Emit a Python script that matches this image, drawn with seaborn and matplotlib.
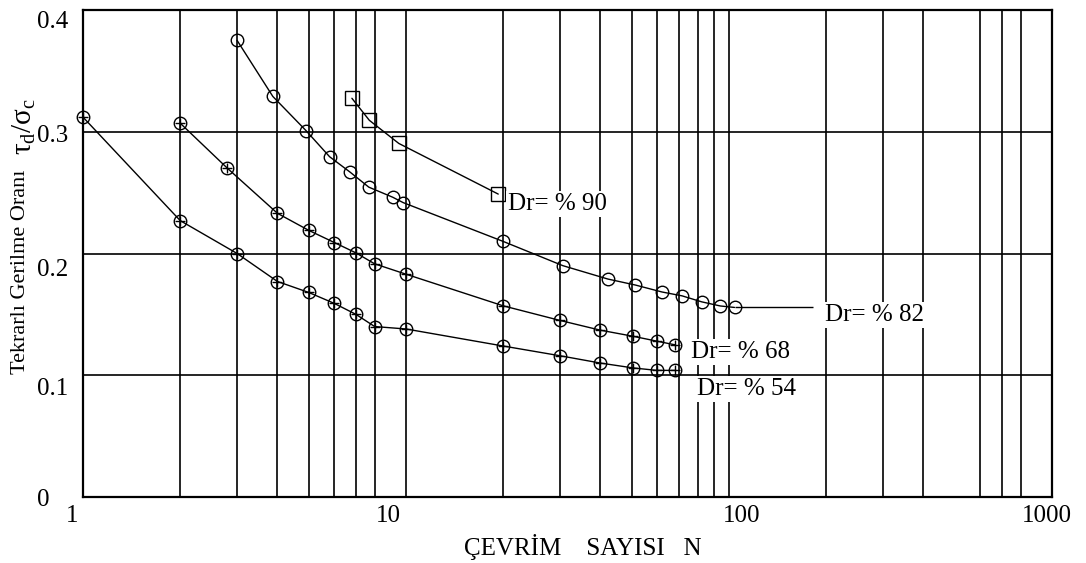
import numpy as np
import pandas as pd
import matplotlib
matplotlib.use("Agg")
import matplotlib.pyplot as plt
import seaborn as sns
from matplotlib.transforms import ScaledTranslation
from matplotlib.ticker import NullFormatter

# ---------------- data ----------------
n_54 = [1.0, 2.0, 3.0, 4.0, 5.0, 6.0, 7.0, 8.0, 10.0, 20.0, 30.0, 40.0, 50.5, 59.8, 68.0]
r_54 = [0.312, 0.227, 0.200, 0.177, 0.168, 0.159, 0.150, 0.140, 0.138, 0.124, 0.116, 0.110, 0.106, 0.104, 0.104]

n_68 = [2.0, 2.8, 4.0, 5.0, 6.0, 7.0, 8.0, 10.0, 20.0, 30.0, 40.0, 50.5, 59.8, 68.0]
r_68 = [0.307, 0.270, 0.233, 0.219, 0.209, 0.2005, 0.1915, 0.183, 0.157, 0.145, 0.137, 0.132, 0.128, 0.125]

n_82 = [3.0, 3.87, 4.9, 5.8, 6.7, 7.67, 9.1, 9.8, 20.0, 30.6, 42.2, 51.3, 62.0, 71.6, 82.3, 94.0, 104.0]
r_82 = [0.375, 0.329, 0.301, 0.2795, 0.267, 0.2545, 0.2462, 0.2418, 0.2099, 0.190, 0.179, 0.1741,
        0.1684, 0.1652, 0.1603, 0.1569, 0.1557]

n_90 = [6.8, 7.7, 9.5, 19.3]
r_90 = [0.3275, 0.3094, 0.2904, 0.2488]

series_labels = ["Dr= % 54", "Dr= % 68", "Dr= % 82", "Dr= % 90"]

x_ticks = [1, 10, 100, 1000]
x_tick_labels = ["1", "10", "100", "1000"]
y_ticks = [0.0, 0.1, 0.2, 0.3, 0.4]
y_tick_labels = ["0", "0.1", "0.2", "0.3", "0.4"]
grid_n = [2, 3, 4, 5, 6, 7, 8, 20, 30, 40, 50, 60, 70, 80, 90, 200, 300, 400, 600, 700, 800]

x_title = "ÇEVRİM    SAYISI   N"
y_title_words = "Tekrarlı Gerilme Oranı"
y_title_symbol = r"$\mathregular{τ_d/σ_c}$"

# ---------------- style ----------------
sns.set_style("white")
plt.rcParams["font.family"] = ["Liberation Serif", "DejaVu Serif"]
plt.rcParams["mathtext.fontset"] = "stix"

W, H = 1086, 563
fig = plt.figure(figsize=(W / 100, H / 100), dpi=100)
ax = fig.add_axes([83 / W, 1 - 497 / H, 969 / W, 487 / H])

line_kw = dict(color="black", lw=1.0, markerfacecolor="none", markeredgecolor="black",
               markeredgewidth=1.0, estimator=None, sort=False, clip_on=False, legend=False)

for n, r in [(n_54, r_54), (n_68, r_68), (n_82, r_82)]:
    df = pd.DataFrame({"N": n, "r": r})
    sns.lineplot(data=df, x="N", y="r", ax=ax, marker="o", markersize=9, **line_kw)

for n, r in [(n_54, r_54), (n_68, r_68)]:
    sns.scatterplot(x=n, y=r, ax=ax, marker="+", s=45, color="black", linewidth=1.0,
                    clip_on=False, legend=False, zorder=4)

df90 = pd.DataFrame({"N": n_90, "r": r_90})
sns.lineplot(data=df90, x="N", y="r", ax=ax, marker="s", markersize=10, **line_kw)

# leader line from the Dr=82 curve to its label
ax.hlines(r_82[-1], n_82[-1], 182, color="black", lw=1.0)

# ---------------- axes ----------------
ax.set_xscale("log")
ax.set_xlim(1, 1000)
ax.set_ylim(0, 0.4)
ax.set_xticks(x_ticks)
ax.set_xticklabels(x_tick_labels)
ax.set_xticks(grid_n, minor=True)
ax.xaxis.set_minor_formatter(NullFormatter())
ax.set_yticks(y_ticks)
ax.set_yticklabels(y_tick_labels)
ax.set_xlabel("")
ax.set_ylabel("")
ax.tick_params(which="both", length=0)
ax.tick_params(axis="x", labelsize=18, pad=6, colors="black")
ax.tick_params(axis="y", labelsize=18, pad=33, colors="black")

ax.set_axisbelow(True)
ax.grid(True, axis="x", which="both", color="black", lw=1.2)
ax.grid(True, axis="y", which="major", color="black", lw=1.2)
for sp in ax.spines.values():
    sp.set_color("black")
    sp.set_linewidth(1.6)

for lbl in ax.get_yticklabels():
    lbl.set_horizontalalignment("left")

# small hand-drawn offsets of the tick labels (pixels)
for lbl, dx in zip(ax.get_xticklabels(), [-11, -18, 13, -5]):
    lbl.set_transform(lbl.get_transform() + ScaledTranslation(dx / 100, 0, fig.dpi_scale_trans))
for lbl, dy in zip(ax.get_yticklabels(), [0, -11, -14, -2, -10]):
    lbl.set_transform(lbl.get_transform() + ScaledTranslation(0, dy / 100, fig.dpi_scale_trans))

# ---------------- curve labels ----------------
bb = dict(facecolor="white", edgecolor="none", pad=1.5)
label_pos = [(79.6, 0.0887), (76.3, 0.1191), (198, 0.1495), (20.7, 0.2407)]
for txt, (lx, ly) in zip(series_labels, label_pos):
    ax.text(lx, ly, txt, fontsize=18, ha="left", va="center", color="black", bbox=bb, zorder=3)

# ---------------- titles ----------------
fig.text(583 / W, 1 - 547 / H, x_title, fontsize=18, ha="center", va="center", color="black")
fig.text(21 / W, 1 - 272 / H, y_title_words, fontsize=16, rotation=90, ha="center", va="center",
         color="black")
fig.text(24 / W, 1 - 126 / H, y_title_symbol, fontsize=21, rotation=90, ha="center", va="center",
         color="black")

fig.savefig("out.png", dpi=100)
